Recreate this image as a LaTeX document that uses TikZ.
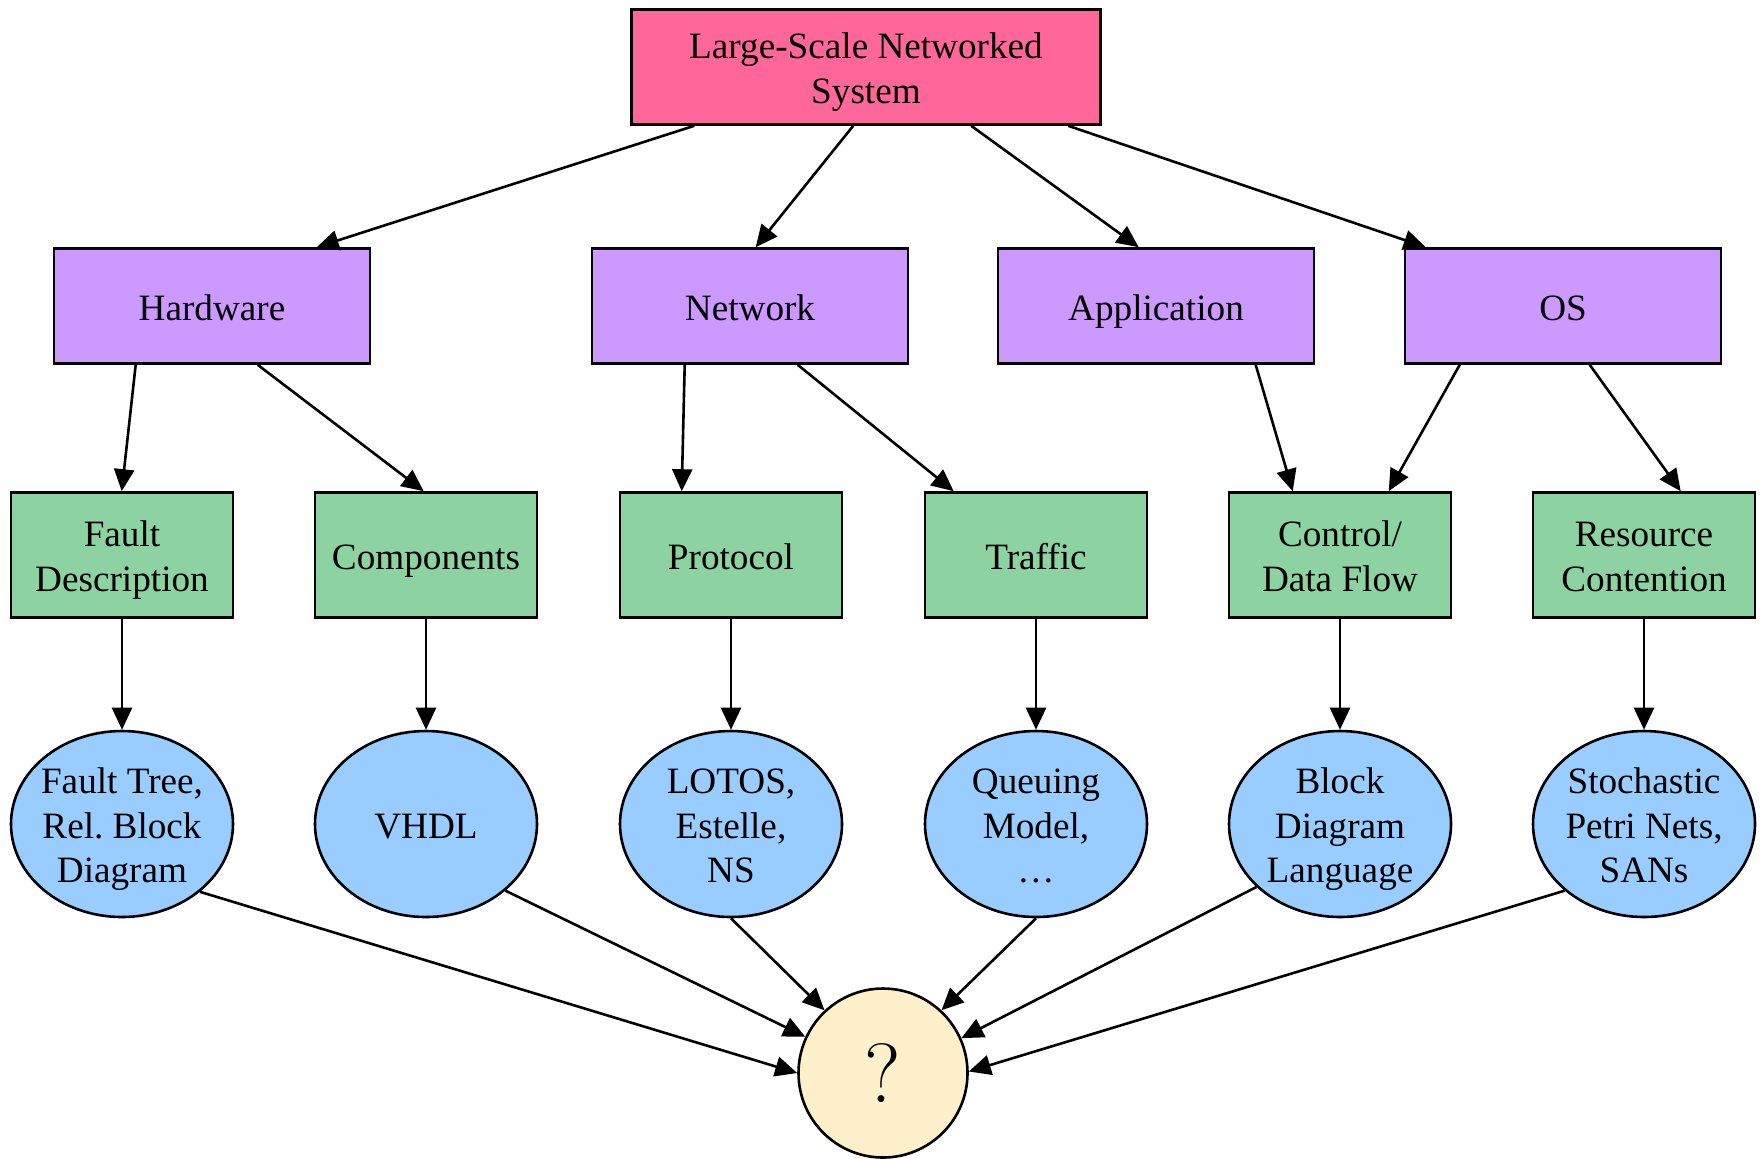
\documentclass[tikz,border=0pt]{standalone}
\usepackage{fontspec}
\newfontfamily\tms{Liberation Serif}
\usetikzlibrary{arrows.meta,shapes.geometric,calc}
\definecolor{rootpink}{HTML}{FF6699}
\definecolor{areapurple}{HTML}{CC99FF}
\definecolor{aspectgreen}{HTML}{8CD3A1}
\definecolor{toolblue}{HTML}{99CCFF}
\definecolor{goalcream}{HTML}{FFF0CC}
% strut that fixes the ascent and descent of label lines
\newcommand\ls{\rule[-4pt]{0pt}{22pt}}
\tikzset{
  base/.style={draw=black, line width=1.3pt, inner sep=0pt, align=center,
    font=\tms\fontsize{18.6}{22.3}\selectfont,
    execute at begin node=\ls, execute at end node=\ls},
  rootbox/.style={base, rectangle, fill=rootpink, minimum width=234.5pt, minimum height=57.5pt},
  areabox/.style={base, rectangle, fill=areapurple, minimum width=158pt, minimum height=57.5pt},
  aspectbox/.style={base, rectangle, fill=aspectgreen, minimum width=111pt, minimum height=62.5pt},
  toolnode/.style={base, ellipse, fill=toolblue, inner sep=-20pt,
    minimum width=111pt, minimum height=93pt},
  goalnode/.style={draw=black, line width=1.3pt, inner sep=0pt, circle, fill=goalcream,
    minimum size=84.5pt, font=\rmfamily\fontsize{42}{46}\selectfont},
  edge/.style={draw=black, line width=1.3pt, -{Triangle[length=11pt,width=10pt]}}
}
\begin{document}
\begin{tikzpicture}[x=0.5pt, y=-0.5pt]
\useasboundingbox (0,0) rectangle (1764,1158);

% root
\node[rootbox] (top) at (866,67) {\ls Large-Scale Networked\\System\ls};

% areas
\node[areabox] (hw)  at (212,306)  {Hardware};
\node[areabox] (net) at (750,306)  {Network};
\node[areabox] (app) at (1156,306) {Application};
\node[areabox] (os)  at (1563,306) {OS};

% aspects
\node[aspectbox] (fd)   at (122,555)  {\ls Fault\\Description\ls};
\node[aspectbox] (comp) at (426,555)  {Components};
\node[aspectbox] (prot) at (731,555)  {Protocol};
\node[aspectbox] (traf) at (1036,555) {Traffic};
\node[aspectbox] (cdf)  at (1340,555) {\ls Control/\\Data Flow\ls};
\node[aspectbox] (rc)   at (1644,555) {\ls Resource\\Contention\ls};

% modelling formalisms
\node[toolnode] (ft)    at (122,824)  {\ls Fault Tree,\\Rel.\ Block\\Diagram\ls};
\node[toolnode] (vhdl)  at (426,824)  {VHDL};
\node[toolnode] (lotos) at (731,824)  {\ls LOTOS,\\Estelle,\\NS\ls};
\node[toolnode] (queue) at (1036,824) {\ls Queuing\\Model,\\\dots\ls};
\node[toolnode] (bdl)   at (1340,824) {\ls Block\\Diagram\\Language\ls};
\node[toolnode] (spn)   at (1644,824) {\ls Stochastic\\Petri Nets,\\SANs\ls};

% open question
\node[goalnode] (q) at (883,1073) {?};

% root to areas
\draw[edge] ($(top.south west)+(64,0)$)  -- ($(hw.north west)+(264,0)$);
\draw[edge] ($(top.south west)+(223,0)$) -- ($(net.north west)+(165,0)$);
\draw[edge] ($(top.south west)+(341,0)$) -- ($(app.north west)+(142,0)$);
\draw[edge] ($(top.south west)+(438,0)$) -- ($(os.north west)+(22,0)$);

% areas to aspects
\draw[edge] ($(hw.south west)+(83,0)$)   -- ($(fd.north west)+(112,0)$);
\draw[edge] ($(hw.south west)+(205,0)$)  -- ($(comp.north west)+(110,0)$);
\draw[edge] ($(net.south west)+(94,0)$)  -- ($(prot.north west)+(63,0)$);
\draw[edge] ($(net.south west)+(207,0)$) -- ($(traf.north west)+(30,0)$);
\draw[edge] ($(app.south west)+(259,0)$) -- ($(cdf.north west)+(65,0)$);
\draw[edge] ($(os.south west)+(56,0)$)   -- ($(cdf.north west)+(161,0)$);
\draw[edge] ($(os.south west)+(186,0)$)  -- ($(rc.north west)+(149,0)$);

% aspects to formalisms
\draw[edge] (fd.south)   -- (ft.north);
\draw[edge] (comp.south) -- (vhdl.north);
\draw[edge] (prot.south) -- (lotos.north);
\draw[edge] (traf.south) -- (queue.north);
\draw[edge] (cdf.south)  -- (bdl.north);
\draw[edge] (rc.south)   -- (spn.north);

% formalisms to the open question
\draw[edge] (ft.-41)      -- (q.180);
\draw[edge] (vhdl.-40)    -- (q.155);
\draw[edge] (lotos.south) -- (q.133);
\draw[edge] (queue.south) -- (q.47);
\draw[edge] (bdl.217)     -- (q.24);
\draw[edge] (spn.-140)    -- (q.1);
\end{tikzpicture}
\end{document}
